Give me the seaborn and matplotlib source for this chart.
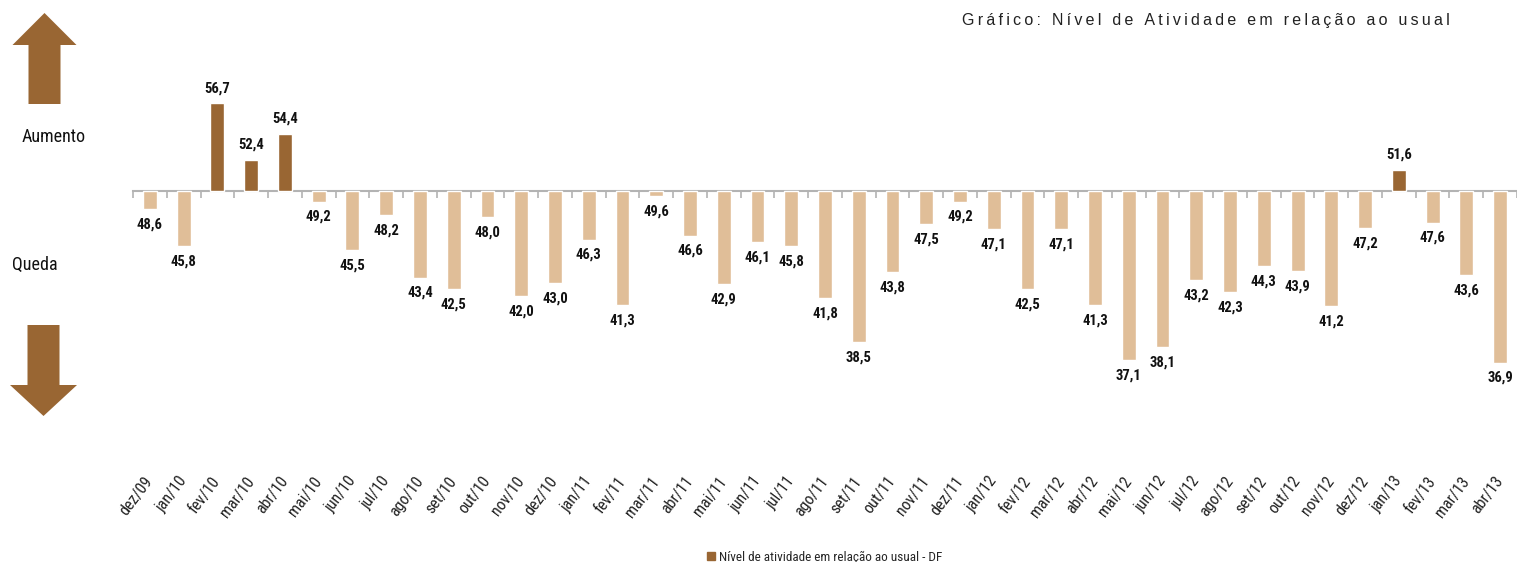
import numpy as np
import pandas as pd
import seaborn as sns
import matplotlib.pyplot as plt
from matplotlib.patches import FancyArrow, Patch

# Dados do gráfico
meses = ['dez/09', 'jan/10', 'fev/10', 'mar/10', 'abr/10', 'mai/10', 'jun/10', 'jul/10',
         'ago/10', 'set/10', 'out/10', 'nov/10', 'dez/10', 'jan/11', 'fev/11', 'mar/11',
         'abr/11', 'mai/11', 'jun/11', 'jul/11', 'ago/11', 'set/11', 'out/11', 'nov/11',
         'dez/11', 'jan/12', 'fev/12', 'mar/12', 'abr/12', 'mai/12', 'jun/12', 'jul/12',
         'ago/12', 'set/12', 'out/12', 'nov/12', 'dez/12', 'jan/13', 'fev/13', 'mar/13',
         'abr/13']
valores = [48.6, 45.8, 56.7, 52.4, 54.4, 49.2, 45.5, 48.2,
           43.4, 42.5, 48.0, 42.0, 43.0, 46.3, 41.3, 49.6,
           46.6, 42.9, 46.1, 45.8, 41.8, 38.5, 43.8, 47.5,
           49.2, 47.1, 42.5, 47.1, 41.3, 37.1, 38.1, 43.2,
           42.3, 44.3, 43.9, 41.2, 47.2, 51.6, 47.6, 43.6,
           36.9]
referencia = 50.0

titulo = 'Gráfico: Nível de Atividade em relação ao usual'
legenda = 'Nível de atividade em relação ao usual - DF'

MARROM = '#996633'
BEGE = '#E0BE98'
CINZA = '#B3B3B3'
NARROW = ['Liberation Sans Narrow', 'DejaVu Sans Condensed', 'Roboto Condensed',
          'Roboto', 'DejaVu Sans']

df = pd.DataFrame({'mes': meses, 'valor': valores})
df['delta'] = df['valor'] - referencia
df['tipo'] = np.where(df['delta'] > 0, 'Aumento', 'Queda')

sns.set_style('white')
plt.rcParams['font.family'] = NARROW

W, H = 1517, 562
fig = plt.figure(figsize=(W / 100, H / 100), dpi=100)
ax = fig.add_axes([133 / W, 1 - 470 / H, 1 - 133 / W, 470 / H])

sns.barplot(data=df, x='mes', y='delta', hue='tipo',
            palette={'Aumento': MARROM, 'Queda': BEGE},
            width=0.41, dodge=False, saturation=1, legend=False, ax=ax)

ymin, ymax = -21.3, 14.6
ax.set_ylim(ymin, ymax)
ax.set_xlim(-0.5, len(meses) - 0.5)

# Rótulos de valor
for i, v in enumerate(valores):
    d = v - referencia
    txt = f'{v:.1f}'.replace('.', ',')
    ax.annotate(txt, (i, d), xytext=(0, 6 if d > 0 else -6), textcoords='offset points',
                ha='center', va='bottom' if d > 0 else 'top',
                fontsize=10.5, fontweight='bold', color='#111111')

ax.set_xlabel('')
ax.set_ylabel('')
ax.set_yticks([])
for s in ax.spines.values():
    s.set_visible(False)
ax.tick_params(axis='x', length=0, pad=6)
ax.set_xticks(range(len(meses)))
ax.set_xticklabels(meses, rotation=53, ha='right', va='center',
                   rotation_mode='anchor', fontsize=11.5, color='#222222')

# Linha base em 50 com marcas entre as categorias
base = ax.secondary_xaxis((0 - ymin) / (ymax - ymin))
base.set_xticks(np.arange(-0.5, len(meses), 1.0))
base.set_xticklabels([])
base.xaxis.set_ticks_position('bottom')
base.tick_params(axis='x', direction='out', length=5, color=CINZA, width=1.2,
                 bottom=True, top=False)
for lado in ['top', 'bottom']:
    base.spines[lado].set_color(CINZA)
    base.spines[lado].set_linewidth(1.5)

# Setas e textos à esquerda
lat = fig.add_axes([0, 0, 133 / W, 1])
lat.set_xlim(0, 133)
lat.set_ylim(H, 0)
lat.axis('off')
lat.add_patch(FancyArrow(44.5, 104, 0, -91, width=32, head_width=64, head_length=32,
                         length_includes_head=True, color=MARROM, lw=0))
lat.add_patch(FancyArrow(43.5, 325, 0, 91, width=32, head_width=67, head_length=31,
                         length_includes_head=True, color=MARROM, lw=0))
lat.text(22, 137, 'Aumento', ha='left', va='center', fontsize=13, color='#111111')
lat.text(12, 265, 'Queda', ha='left', va='center', fontsize=13, color='#111111')

# Título com espaçamento entre letras
espacado = '\u2009'.join(titulo)
fig.text(1450 / W, 1 - 20 / H, espacado, ha='right', va='center', fontsize=11.5,
         color='#222222', family=['Liberation Sans', 'DejaVu Sans'])

ax.legend(handles=[Patch(color=MARROM, label=legenda)], loc='center',
          bbox_to_anchor=(0.5, -0.185), frameon=False, fontsize=9.5,
          handlelength=0.6, handleheight=0.6, handletextpad=0.3)

fig.savefig('out.png', dpi=100)
